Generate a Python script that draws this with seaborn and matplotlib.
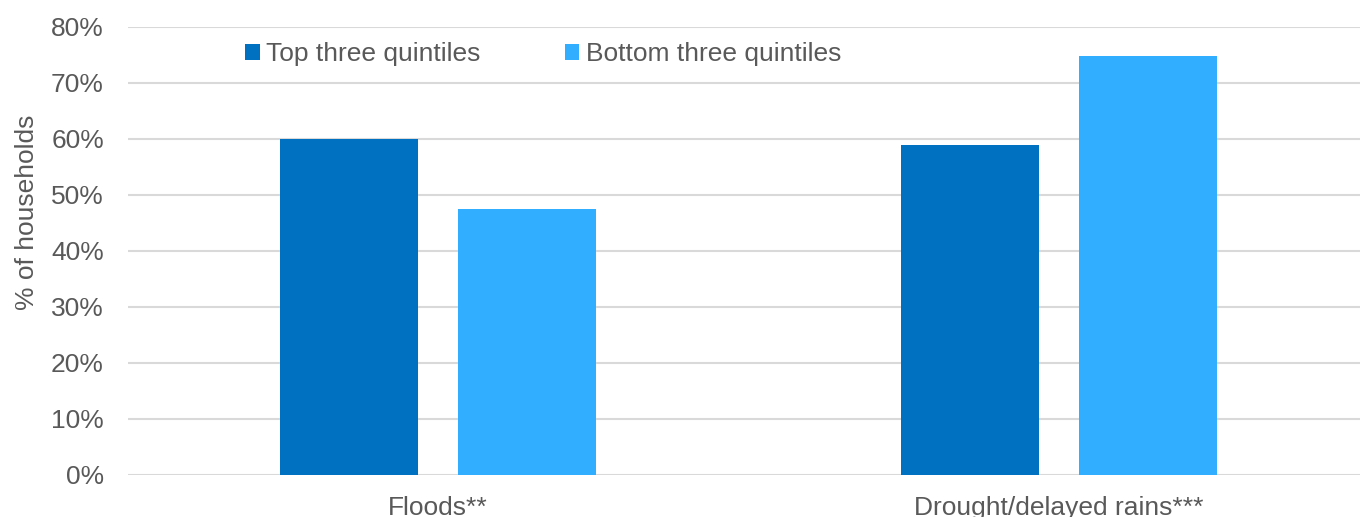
import matplotlib
matplotlib.use("Agg")
import matplotlib.pyplot as plt
from matplotlib.patches import Patch
from matplotlib.ticker import PercentFormatter, MultipleLocator
import pandas as pd
import seaborn as sns

# Share of households affected, by wealth group
hazards = ["Floods**", "Drought/delayed rains***"]
groups = ["Top three quintiles", "Bottom three quintiles"]
top_three = [0.600, 0.588]
bottom_three = [0.474, 0.748]
colors = ["#0070C0", "#31AEFF"]

df = pd.DataFrame({
    "hazard": hazards * 2,
    "group": [groups[0]] * len(hazards) + [groups[1]] * len(hazards),
    "share": top_three + bottom_three,
})

sns.set_theme(style="white")
plt.rcParams["font.family"] = ["Liberation Sans", "DejaVu Sans"]
text_color = "#595959"
fs = 19

fig = plt.figure(figsize=(13.6, 5.17), dpi=100)
W, H = 1360, 517
left, right = 127.5, 1369.5
bottom, top = 474.7, 26.5
ax = fig.add_axes([left / W, 1 - bottom / H, (right - left) / W, (bottom - top) / H])

sns.barplot(data=df, x="hazard", y="share", hue="group", hue_order=groups,
            palette=colors, width=0.573, gap=0.22, linewidth=0,
            saturation=1, legend=False, ax=ax)

ax.set_ylim(0, 0.8)
ax.set_xlim(-0.5, 1.5)
ax.yaxis.set_major_locator(MultipleLocator(0.1))
ax.yaxis.set_major_formatter(PercentFormatter(1.0, decimals=0))
ax.grid(axis="y", color="#D9D9D9", linewidth=1.5)
ax.set_axisbelow(True)
for s in ax.spines.values():
    s.set_visible(False)

ax.tick_params(axis="y", length=0, pad=17, labelsize=fs, labelcolor=text_color)
ax.tick_params(axis="x", length=0, pad=15, labelsize=fs, labelcolor=text_color)
ax.set_xlabel("")
ax.set_ylabel("% of households", fontsize=fs, color=text_color)
ax.yaxis.set_label_coords(-(left - 39) / (right - left), 0.586)

handles = [Patch(facecolor=c, edgecolor="none") for c in colors]
fig.legend(handles, groups, loc="center left",
           bbox_to_anchor=(245 / W, 1 - 54 / H), frameon=False, ncol=2,
           fontsize=fs, labelcolor=text_color, handlelength=0.55,
           handleheight=0.55, handletextpad=0.25, columnspacing=3.2,
           borderpad=0, borderaxespad=0)

fig.savefig("out.png", dpi=100)
